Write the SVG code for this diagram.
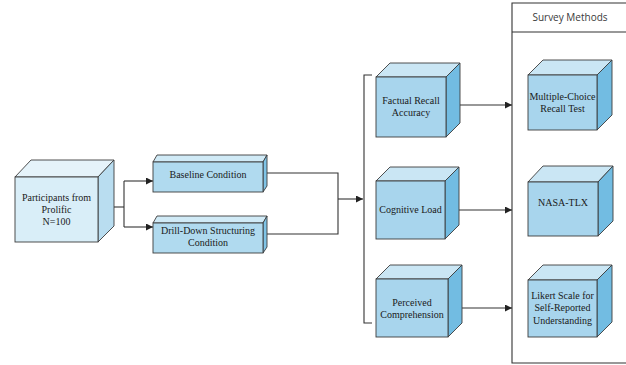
<svg xmlns="http://www.w3.org/2000/svg" width="626" height="365" viewBox="0 0 626 365">
  <defs>
    <marker id="arrow" viewBox="0 0 10 10" refX="10" refY="5" markerWidth="9" markerHeight="7" markerUnits="userSpaceOnUse" orient="auto">
      <path d="M0,0 L10,5 L0,10 z" fill="#222"/>
    </marker>
    <style>
      .edge { fill: none; stroke: #333; stroke-width: 1.1; }
      .cube rect, .cube polygon { stroke: #3c3c3c; stroke-width: 0.9; stroke-linejoin: miter; }
      .front { fill: #a8d5ed; }
      .top { fill: #cae6f4; }
      .side { fill: #72bce2; }
      .pale .front { fill: #d9eef8; }
      .pale .top { fill: #e5f3fa; }
      .pale .side { fill: #b9ddf0; }
      .mid .front { fill: #b0daef; }
      .mid .top { fill: #d0eaf6; }
      .mid .side { fill: #80c4e6; }
      .lbl { font-family: "Liberation Serif", "Times New Roman", serif; font-size: 10px; fill: #1a1a1a; text-anchor: middle; }
      .head { font-family: "Open Sans", "Noto Sans", sans-serif; font-size: 10px; fill: #3a3a3a; text-anchor: middle; }
    </style>
  </defs>
  <rect width="626" height="365" fill="#ffffff"/>

  <!-- survey methods container, open on the right -->
  <g id="survey-methods">
    <path d="M640,3 H512 V363 H640" fill="none" stroke="#333" stroke-width="1.1"/>
    <line x1="512" y1="32" x2="640" y2="32" stroke="#333" stroke-width="1.1"/>
    <text class="head" x="570" y="21">Survey Methods</text>
  </g>

  <!-- connectors -->
  <g id="connectors">
    <polyline class="edge" points="98,207 124,207"/>
    <line class="edge" x1="124" y1="181" x2="124" y2="227"/>
    <line class="edge" x1="124" y1="181" x2="153" y2="181" marker-end="url(#arrow)"/>
    <line class="edge" x1="124" y1="227" x2="153" y2="227" marker-end="url(#arrow)"/>
    <polyline class="edge" points="266,173 338,173 338,234 266,234"/>
    <line class="edge" x1="338" y1="199" x2="363" y2="199" marker-end="url(#arrow)"/>
    <polyline class="edge" points="372,75 364,75 364,323 372,323"/>
    <line class="edge" x1="460" y1="105" x2="512" y2="105" marker-end="url(#arrow)"/>
    <line class="edge" x1="459" y1="210" x2="512" y2="210" marker-end="url(#arrow)"/>
    <line class="edge" x1="462" y1="308" x2="512" y2="308" marker-end="url(#arrow)"/>
  </g>

  <!-- participants -->
  <g id="participants" class="cube pale">
    <polygon class="top" points="15,177 31,160 114,160 98,177"/>
    <polygon class="side" points="98,177 114,160 114,226 98,242"/>
    <rect class="front" x="15" y="177" width="83" height="65"/>
    <text class="lbl" x="56.5" y="200.5">Participants from</text>
    <text class="lbl" x="56.5" y="212.5">Prolific</text>
    <text class="lbl" x="56.5" y="225">N=100</text>
  </g>

  <!-- conditions -->
  <g id="baseline" class="cube mid">
    <polygon class="top" points="153,162 157,155 267,155 263,162"/>
    <polygon class="side" points="263,162 267,155 267,186 263,192"/>
    <rect class="front" x="153" y="162" width="110" height="30"/>
    <text class="lbl" x="208" y="177.5">Baseline Condition</text>
  </g>

  <g id="drill-down" class="cube mid">
    <polygon class="top" points="153,223 157,216 267,216 263,223"/>
    <polygon class="side" points="263,223 267,216 267,247 263,253"/>
    <rect class="front" x="153" y="223" width="110" height="30"/>
    <text class="lbl" x="208" y="234">Drill-Down Structuring</text>
    <text class="lbl" x="208" y="246">Condition</text>
  </g>

  <!-- measures -->
  <g id="factual-recall" class="cube">
    <polygon class="top" points="376,77 390,63 460,63 446,77"/>
    <polygon class="side" points="446,77 460,63 460,123 446,137"/>
    <rect class="front" x="376" y="77" width="70" height="60"/>
    <text class="lbl" x="411" y="103.5">Factual Recall</text>
    <text class="lbl" x="411" y="115.5">Accuracy</text>
  </g>

  <g id="cognitive-load" class="cube">
    <polygon class="top" points="376,181 390,167 459,167 445,181"/>
    <polygon class="side" points="445,181 459,167 459,225 445,239"/>
    <rect class="front" x="376" y="181" width="69" height="58"/>
    <text class="lbl" x="410.5" y="212.5">Cognitive Load</text>
  </g>

  <g id="perceived-comprehension" class="cube">
    <polygon class="top" points="376,279 390,265 462,265 448,279"/>
    <polygon class="side" points="448,279 462,265 462,323 448,337"/>
    <rect class="front" x="376" y="279" width="72" height="58"/>
    <text class="lbl" x="412" y="305.5">Perceived</text>
    <text class="lbl" x="412" y="317.5">Comprehension</text>
  </g>

  <!-- survey instruments -->
  <g id="multiple-choice" class="cube">
    <polygon class="top" points="528,75 543,60 612,60 597,75"/>
    <polygon class="side" points="597,75 612,60 612,115 597,130"/>
    <rect class="front" x="528" y="75" width="69" height="55"/>
    <text class="lbl" x="562.5" y="100">Multiple-Choice</text>
    <text class="lbl" x="562.5" y="112">Recall Test</text>
  </g>

  <g id="nasa-tlx" class="cube">
    <polygon class="top" points="528,182 543,166 613,166 598,182"/>
    <polygon class="side" points="598,182 613,166 613,221 598,236"/>
    <rect class="front" x="528" y="182" width="70" height="54"/>
    <text class="lbl" x="563" y="206">NASA-TLX</text>
  </g>

  <g id="likert" class="cube">
    <polygon class="top" points="528,280 543,265 612,265 597,280"/>
    <polygon class="side" points="597,280 612,265 612,322 597,337"/>
    <rect class="front" x="528" y="280" width="69" height="57"/>
    <text class="lbl" x="562.5" y="298.5">Likert Scale for</text>
    <text class="lbl" x="562.5" y="311">Self-Reported</text>
    <text class="lbl" x="562.5" y="323.5">Understanding</text>
  </g>
</svg>
